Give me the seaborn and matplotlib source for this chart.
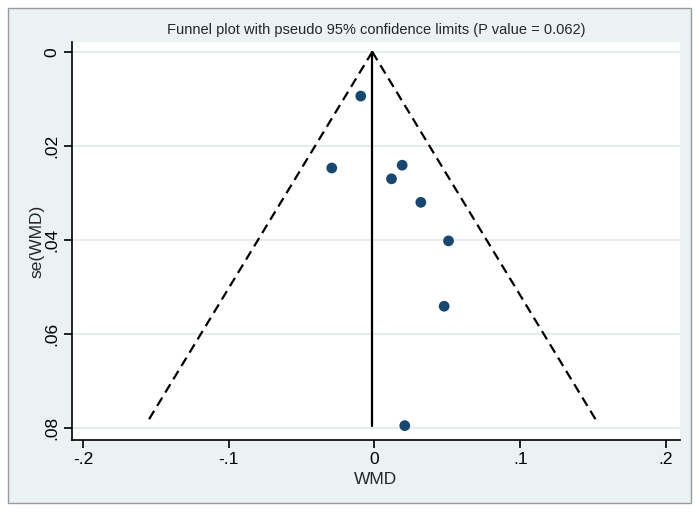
import matplotlib
matplotlib.use("Agg")
import matplotlib.pyplot as plt
import seaborn as sns
import pandas as pd
import numpy as np
from matplotlib.patches import Rectangle

# Data
wmd = [-0.0094, -0.0293, 0.0190, 0.0117, 0.0318, 0.0508, 0.0478, 0.0208]
se_wmd = [0.0094, 0.0247, 0.0241, 0.0270, 0.0320, 0.0402, 0.0541, 0.0795]
pooled = -0.0015
funnel_se_max = 0.0790
x_ticks = [-0.2, -0.1, 0.0, 0.1, 0.2]
x_tick_labels = ["-.2", "-.1", "0", ".1", ".2"]
y_ticks = [0.0, 0.02, 0.04, 0.06, 0.08]
y_tick_labels = ["0", ".02", ".04", ".06", ".08"]
title = "Funnel plot with pseudo 95% confidence limits (P value = 0.062)"

df = pd.DataFrame({"WMD": wmd, "se": se_wmd})

sns.set_style("white")
plt.rcParams["font.family"] = ["Liberation Sans", "DejaVu Sans"]

fig = plt.figure(figsize=(7.0, 5.13), dpi=100, facecolor="white")
W, H = 700, 513
# outer Stata-like graph region
fig.patches.append(Rectangle((8 / W, 1 - 503 / H), 683 / W, 495 / H,
                             transform=fig.transFigure, facecolor="#eaf2f3",
                             edgecolor="#9a9a9a", linewidth=1.0, zorder=0))

ax = fig.add_axes([72 / W, 1 - 440 / H, (680 - 72) / W, (440 - 42) / H])
ax.set_facecolor("white")
ax.set_zorder(1)

# gridlines
for yt in y_ticks:
    ax.axhline(yt, color="#e2ebef", lw=1.3, zorder=1)

# funnel lines
se_line = np.array([0.0, funnel_se_max])
ax.plot(pooled - 1.96 * se_line, se_line, color="black", lw=1.6,
        dashes=(4.4, 2.6), zorder=2)
ax.plot(pooled + 1.96 * se_line, se_line, color="black", lw=1.6,
        dashes=(4.4, 2.6), zorder=2)
ax.plot([pooled, pooled], [0.0, se_wmd[-1]], color="black", lw=1.6, zorder=2)

sns.scatterplot(data=df, x="WMD", y="se", ax=ax, color="#1a476f", s=60,
                edgecolor="none", zorder=3)

ax.set_xlim(-0.2075, 0.2096)
ax.set_ylim(0.08255, -0.0021)

ax.set_xticks(x_ticks)
ax.set_xticklabels(x_tick_labels)
ax.set_yticks(y_ticks)
ax.set_yticklabels(y_tick_labels, rotation=90, va="center")

ax.tick_params(axis="both", direction="out", length=6, width=1.2,
               color="black", labelsize=12.5, labelcolor="black", pad=3)
ax.tick_params(axis="x", bottom=True)
ax.tick_params(axis="y", left=True)

for side in ["top", "right"]:
    ax.spines[side].set_visible(False)
for side in ["left", "bottom"]:
    ax.spines[side].set_color("black")
    ax.spines[side].set_linewidth(1.2)

ax.set_xlabel("WMD", fontsize=12.5, labelpad=3)
ax.set_ylabel("se(WMD)", fontsize=12.5, labelpad=0)
ax.set_title(title, fontsize=10.5, pad=6)

fig.savefig("out.png", dpi=100, facecolor="white")
